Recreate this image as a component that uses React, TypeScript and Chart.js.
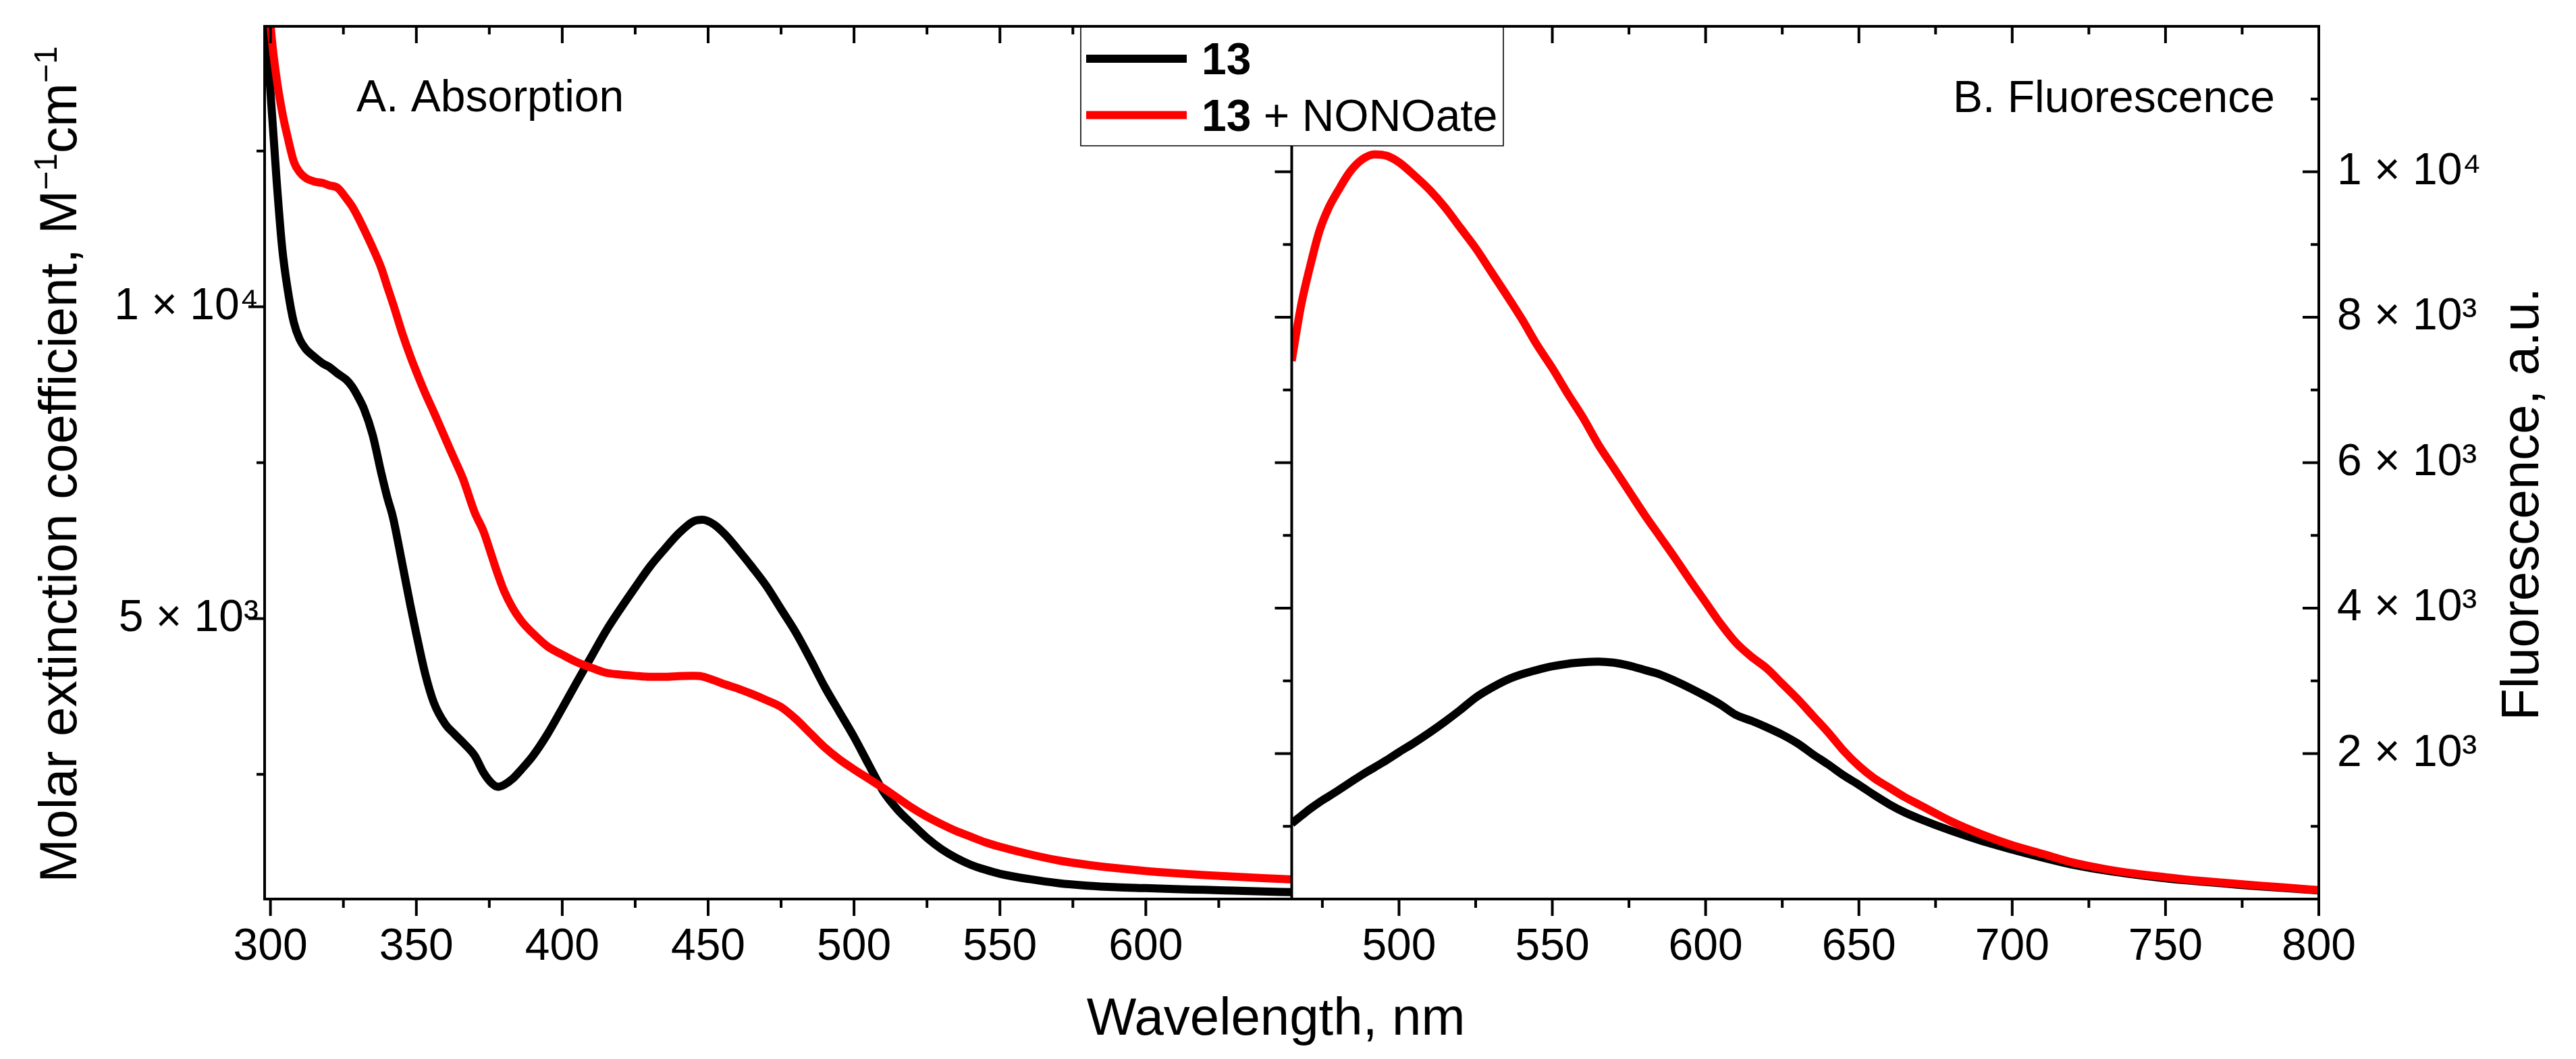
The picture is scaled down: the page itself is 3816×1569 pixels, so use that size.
import React, { useEffect, useRef } from "react";
import { Chart, registerables } from "chart.js";

Chart.register(...registerables);

const W = 3816;
const H = 1569;
const FONT = '"Liberation Sans", Arial, Helvetica, sans-serif';

// ---------- Panel A: absorption (wavelength, nm) ----------
const absWavelength = [
  298, 300, 302, 304, 306, 308, 310, 312, 315, 318, 320, 323, 326, 328, 330, 332,
  335, 338, 340, 342, 345, 348, 350, 353, 356, 360, 363, 366, 370, 373, 376, 378,
  380, 383, 386, 390, 395, 400, 405, 410, 415, 420, 425, 430, 435, 440, 445, 448,
  452, 456, 460, 465, 470, 475, 480, 485, 490, 495, 500, 505, 510, 515, 520, 525,
  530, 535, 540, 545, 550, 560, 570, 580, 590, 600, 610, 620, 630, 640, 650,
];
// molar extinction coefficient of 13
const abs13 = [
  14900, 13450, 12100, 10950, 10250, 9750, 9480, 9330, 9200, 9090, 9040, 8930, 8830, 8720, 8560, 8370,
  7950, 7330, 6950, 6620, 5920, 5200, 4750, 4120, 3650, 3300, 3150, 3010, 2800, 2530, 2350, 2300,
  2330, 2430, 2580, 2800, 3150, 3560, 3980, 4390, 4800, 5160, 5500, 5830, 6110, 6370, 6560, 6585,
  6510, 6340, 6120, 5830, 5520, 5150, 4780, 4350, 3900, 3500, 3100, 2660, 2230, 1930, 1700, 1480,
  1300, 1160, 1050, 970, 905, 820, 755, 715, 690, 675, 660, 648, 635, 622, 610,
];
// molar extinction coefficient of 13 + NONOate
const abs13NONOate = [
  16200, 14550, 13700, 13130, 12700, 12330, 12160, 12070, 12010, 11985, 11950, 11910, 11740, 11610, 11440, 11250,
  10950, 10620, 10330, 10050, 9600, 9200, 8960, 8620, 8310, 7880, 7560, 7240, 6700, 6400, 5980, 5700,
  5450, 5170, 4960, 4760, 4550, 4420, 4300, 4210, 4130, 4100, 4080, 4065, 4065, 4075, 4080, 4070,
  4010, 3940, 3880, 3790, 3690, 3580, 3390, 3160, 2930, 2740, 2580, 2430, 2280, 2120, 1960, 1820,
  1700, 1590, 1500, 1410, 1340, 1220, 1120, 1050, 995, 950, 915, 885, 860, 835, 815,
];

// ---------- Panel B: fluorescence (wavelength, nm) ----------
const flWavelength = [
  465, 468, 471, 474, 477, 480, 484, 488, 492, 496,
  500, 505, 510, 515, 520, 525, 530, 535, 540, 545,
  550, 555, 560, 565, 570, 575, 580, 585, 590, 595,
  600, 605, 610, 615, 620, 625, 630, 635, 640, 645,
  650, 655, 660, 665, 670,
  680, 690, 700, 710, 720, 730, 740, 750, 760, 770, 780, 790, 800,
];
const fl13 = [
  1040, 1140, 1240, 1330, 1410, 1490, 1600, 1710, 1810, 1910,
  2020, 2150, 2290, 2440, 2600, 2770, 2900, 3010, 3090, 3150,
  3200, 3235, 3255, 3265, 3250, 3210, 3150, 3090, 3000, 2900,
  2790, 2670, 2530, 2450, 2360, 2260, 2140, 1990, 1850, 1700,
  1570, 1430, 1300, 1190, 1100,
  940, 800, 680, 570, 470, 395, 335, 285, 245, 210, 175, 148, 118,
];
const fl13NONOate = [
  7400, 8150, 8700, 9180, 9500, 9730, 10000, 10170, 10240, 10220,
  10130, 9950, 9750, 9510, 9230, 8950, 8630, 8310, 7980, 7620,
  7300, 6950, 6620, 6250, 5930, 5610, 5290, 4990, 4690, 4380,
  4080, 3780, 3520, 3330, 3170, 2960, 2750, 2520, 2290, 2040,
  1830, 1660, 1530, 1400, 1290,
  1070, 890, 740, 620, 500, 415, 350, 300, 255, 220, 185, 155, 122,
];

// ---------- axes ----------
const absXRange = [298, 650];
const flXRange = [465, 800];
const absYRange = [500, 14500];
const flYRange = [0, 12000];

const absMajorX = [300, 350, 400, 450, 500, 550, 600];
const absMinorX = [325, 375, 425, 475, 525, 575, 625];
const flMajorX = [500, 550, 600, 650, 700, 750, 800];
const flMinorX = [475, 525, 575, 625, 675, 725, 775];
const absMajorY = [5000, 10000];
const absMinorY = [2500, 7500, 12500];
const flMajorY = [2000, 4000, 6000, 8000, 10000];
const flMinorY = [1000, 3000, 5000, 7000, 9000, 11000];

// ---------- text ----------
const seriesNames = ["13", "13 + NONOate"];
const legendBold = ["13", "13"];
const legendRest = ["", " + NONOate"];
const seriesColors = ["#000000", "#ff0000"];
const panelLabels = ["A. Absorption", "B. Fluorescence"];
const xTitle = "Wavelength, nm";
const yLeftTitle = [
  { text: "Molar extinction coefficient, M", sup: false },
  { text: "\u22121", sup: true },
  { text: "cm", sup: false },
  { text: "\u22121", sup: true },
];
const yRightTitle = [{ text: "Fluorescence, a.u.", sup: false }];

const SUP: Record<string, string> = {
  "0": "\u2070", "1": "\u00b9", "2": "\u00b2", "3": "\u00b3", "4": "\u2074",
  "5": "\u2075", "6": "\u2076", "7": "\u2077", "8": "\u2078", "9": "\u2079",
};
function sciLabel(v: number): string {
  const e = Math.floor(Math.log10(v) + 1e-9);
  const m = Math.round(v / Math.pow(10, e));
  return `${m} \u00d7 10${String(e).split("").map((c) => SUP[c]).join("")}`;
}

// layout constants (pixels)
const PLOT_LEFT = 392;
const PLOT_RIGHT = 3435;
const PLOT_TOP = 39;
const PLOT_BOTTOM = 1332;

function drawRotated(ctx: CanvasRenderingContext2D, parts: { text: string; sup: boolean }[], baseX: number, centerY: number, size: number) {
  const supSize = Math.round(size * 0.62);
  ctx.save();
  ctx.translate(baseX, centerY);
  ctx.rotate(-Math.PI / 2);
  ctx.textAlign = "left";
  ctx.textBaseline = "alphabetic";
  let total = 0;
  const widths: number[] = [];
  for (const p of parts) {
    ctx.font = `${p.sup ? supSize : size}px ${FONT}`;
    const w = ctx.measureText(p.text).width;
    widths.push(w);
    total += w;
  }
  let x = -total / 2;
  parts.forEach((p, i) => {
    ctx.font = `${p.sup ? supSize : size}px ${FONT}`;
    ctx.fillText(p.text, x, p.sup ? -size * 0.37 : 0);
    x += widths[i];
  });
  ctx.restore();
}

const decorPlugin = {
  id: "decor",
  afterDraw(chart: any) {
    const { ctx, chartArea: a, scales } = chart;
    const x1 = scales.x1, x2 = scales.x2, y1 = scales.y1, y2 = scales.y2;
    const mid = x2.left;
    ctx.save();
    ctx.strokeStyle = "#000";
    ctx.fillStyle = "#000";
    ctx.lineWidth = 4;
    ctx.lineCap = "square";
    // frame + divider
    ctx.beginPath();
    ctx.rect(a.left, a.top, a.right - a.left, a.bottom - a.top);
    ctx.moveTo(mid, a.top);
    ctx.lineTo(mid, a.bottom);
    ctx.stroke();

    ctx.lineCap = "butt";
    ctx.beginPath();
    const seg = (xa: number, ya: number, xb: number, yb: number) => {
      ctx.moveTo(xa, ya);
      ctx.lineTo(xb, yb);
    };
    const xs: [any, number[], number[]][] = [
      [x1, absMajorX, absMinorX],
      [x2, flMajorX, flMinorX],
    ];
    for (const [sc, majors, minors] of xs) {
      for (const v of majors) {
        const p = sc.getPixelForValue(v);
        seg(p, a.bottom, p, a.bottom + 25);
        seg(p, a.top, p, a.top + 25);
      }
      for (const v of minors) {
        const p = sc.getPixelForValue(v);
        seg(p, a.bottom, p, a.bottom + 13);
        seg(p, a.top, p, a.top + 12);
      }
    }
    for (const v of absMajorY) {
      const p = y1.getPixelForValue(v);
      seg(a.left, p, a.left - 24, p);
    }
    for (const v of absMinorY) {
      const p = y1.getPixelForValue(v);
      seg(a.left, p, a.left - 12, p);
    }
    for (const v of flMajorY) {
      const p = y2.getPixelForValue(v);
      seg(a.right, p, a.right - 24, p);
      seg(mid, p, mid - 25, p);
    }
    for (const v of flMinorY) {
      const p = y2.getPixelForValue(v);
      seg(a.right, p, a.right - 12, p);
      seg(mid, p, mid - 13, p);
    }
    ctx.stroke();

    // panel labels
    ctx.font = `66px ${FONT}`;
    ctx.textAlign = "left";
    ctx.textBaseline = "alphabetic";
    ctx.fillText(panelLabels[0], 528, 165);
    ctx.fillText(panelLabels[1], 2893, 166);

    // axis titles
    ctx.font = `78px ${FONT}`;
    ctx.textAlign = "center";
    ctx.fillText(xTitle, 1890, 1533);
    drawRotated(ctx, yLeftTitle, 113, 688, 78);
    drawRotated(ctx, yRightTitle, 3760, 747, 78);

    // legend
    const lx = 1601, ly = a.top, lw = 626, lh = 216 - a.top;
    ctx.fillStyle = "#fff";
    ctx.fillRect(lx, ly + 2, lw, lh - 2);
    ctx.strokeStyle = "#000";
    ctx.lineWidth = 1.6;
    ctx.beginPath();
    ctx.moveTo(lx, ly);
    ctx.lineTo(lx, ly + lh);
    ctx.lineTo(lx + lw, ly + lh);
    ctx.lineTo(lx + lw, ly);
    ctx.stroke();
    const rowsY = [87, 170.5];
    const baseY = [110, 193.5];
    for (let i = 0; i < 2; i++) {
      ctx.strokeStyle = seriesColors[i];
      ctx.lineWidth = 12;
      ctx.beginPath();
      ctx.moveTo(1609, rowsY[i]);
      ctx.lineTo(1758, rowsY[i]);
      ctx.stroke();
      ctx.fillStyle = "#000";
      ctx.textAlign = "left";
      ctx.font = `bold 66px ${FONT}`;
      ctx.fillText(legendBold[i], 1780, baseY[i]);
      const bw = ctx.measureText(legendBold[i]).width;
      ctx.font = `66px ${FONT}`;
      ctx.fillText(legendRest[i], 1780 + bw, baseY[i]);
    }
    ctx.restore();
  },
};

export default function App() {
  const ref = useRef<HTMLCanvasElement | null>(null);

  useEffect(() => {
    const canvas = ref.current;
    if (!canvas) return;
    const tickFont = { family: FONT, size: 66 };
    const line = (name: string, color: string, xs: number[], ys: number[], xAxisID: string, yAxisID: string, order: number) => ({
      label: name,
      data: xs.map((x, i) => ({ x, y: ys[i] })),
      xAxisID,
      yAxisID,
      borderColor: color,
      backgroundColor: color,
      borderWidth: 12,
      pointRadius: 0,
      fill: false,
      cubicInterpolationMode: "monotone" as const,
      borderJoinStyle: "round" as const,
      borderCapStyle: "butt" as const,
      order,
    });
    const fixedTicks = (values: number[]) => (s: any) => {
      s.ticks = values.map((v) => ({ value: v }));
    };
    const xAxis = (range: number[], majors: number[]) => ({
      type: "linear",
      position: "bottom",
      stack: "wl",
      stackWeight: 1,
      min: range[0],
      max: range[1],
      grid: { display: false, drawTicks: false },
      border: { display: false },
      afterBuildTicks: fixedTicks(majors),
      ticks: {
        autoSkip: false,
        maxRotation: 0,
        minRotation: 0,
        padding: 32,
        color: "#000",
        font: tickFont,
        callback: (v: any) => String(v),
      },
      afterFit: (s: any) => {
        s.height = H - PLOT_BOTTOM;
        s.paddingLeft = 0;
        s.paddingRight = 0;
      },
    });
    const yAxis = (pos: string, range: number[], majors: number[], padding: number, width: number) => ({
      type: "linear",
      position: pos,
      min: range[0],
      max: range[1],
      grid: { display: false, drawTicks: false },
      border: { display: false },
      afterBuildTicks: fixedTicks(majors),
      ticks: {
        autoSkip: false,
        padding,
        color: "#000",
        font: tickFont,
        callback: (v: any) => sciLabel(Number(v)),
      },
      afterFit: (s: any) => {
        s.width = width;
        s.paddingTop = 0;
        s.paddingBottom = 0;
      },
    });

    const chart = new Chart(canvas, {
      type: "line",
      data: {
        datasets: [
          line(seriesNames[0], seriesColors[0], absWavelength, abs13, "x1", "y1", 1),
          line(seriesNames[1], seriesColors[1], absWavelength, abs13NONOate, "x1", "y1", 0),
          line(seriesNames[0], seriesColors[0], flWavelength, fl13, "x2", "y2", 1),
          line(seriesNames[1], seriesColors[1], flWavelength, fl13NONOate, "x2", "y2", 0),
        ],
      },
      options: {
        responsive: false,
        maintainAspectRatio: false,
        devicePixelRatio: 1,
        animation: false,
        events: [],
        layout: { padding: { top: PLOT_TOP, left: 0, right: 0, bottom: 0 } },
        plugins: { legend: { display: false }, tooltip: { enabled: false }, title: { display: false } },
        scales: {
          x1: xAxis(absXRange, absMajorX),
          x2: xAxis(flXRange, flMajorX),
          y1: yAxis("left", absYRange, absMajorY, 9, PLOT_LEFT),
          y2: yAxis("right", flYRange, flMajorY, 27, W - PLOT_RIGHT),
        },
      },
      plugins: [decorPlugin],
    } as any);

    return () => chart.destroy();
  }, []);

  return (
    <div style={{ position: "absolute", left: 0, top: 0, width: W, height: H, background: "#fff" }}>
      <canvas ref={ref} width={W} height={H} style={{ width: W, height: H, display: "block" }} />
    </div>
  );
}
